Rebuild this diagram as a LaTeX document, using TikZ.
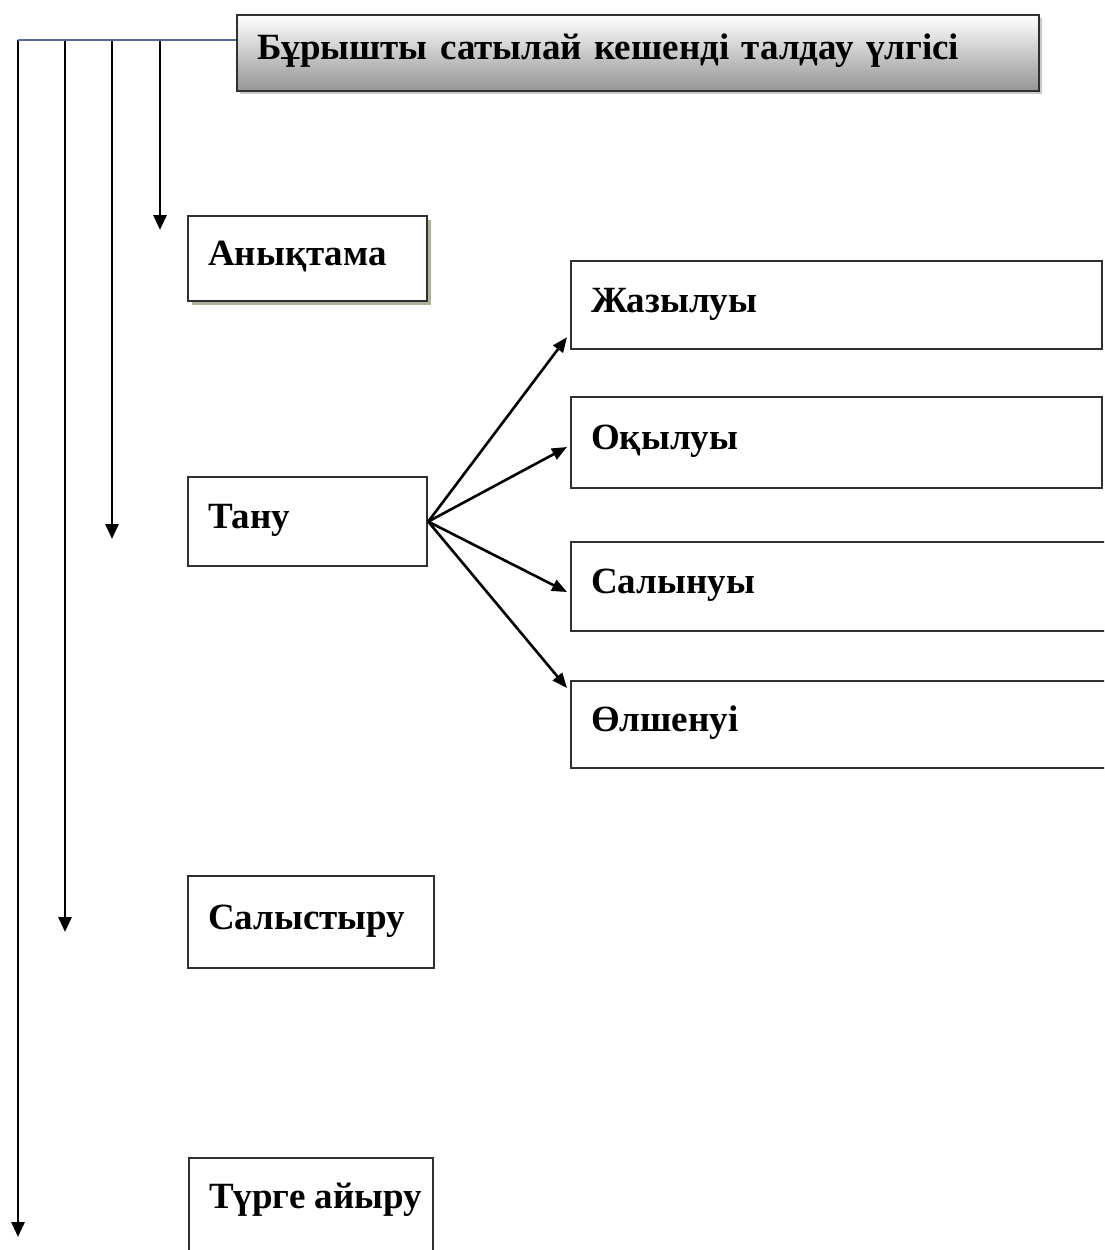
\documentclass[tikz,border=0pt]{standalone}
\usepackage{fontspec}
\setmainfont{Liberation Serif}
\usetikzlibrary{arrows.meta,shadows}
\definecolor{linkblue}{HTML}{4F6A9A}
\definecolor{boxline}{HTML}{303030}
\definecolor{olive}{HTML}{8A9470}
\tikzset{
  box/.style={draw=boxline, line width=2.2pt, fill=white, rectangle, anchor=north west,
    inner xsep=20pt, inner ysep=0pt, align=left, font=\bfseries\fontsize{37}{40}\selectfont,
    text height=25pt, text depth=11pt},
  vline/.style={line width=2.8pt, black, -{Triangle[length=15pt,width=13pt]}},
  fan/.style={line width=2.6pt, black, -{Triangle[length=15pt,width=12pt]}},
}
\begin{document}
\begin{tikzpicture}[x=1pt,y=-1pt]
\useasboundingbox (0,0) rectangle (1104,1250);
\clip (0,0) rectangle (1104,1250);
\fill[white] (0,0) rectangle (1104,1250);
% title
\node[box, top color=white, bottom color=black!42, minimum width=802pt, minimum height=76pt,
  text width=762pt, drop shadow={shadow xshift=3pt, shadow yshift=-3pt, fill=black!35, opacity=0.6},
  text height=24pt, text depth=12pt] (title) at (236,14) {Бұрышты сатылай кешенді талдау үлгісі};
% left boxes
\node[box, minimum width=239pt, minimum height=85pt, text width=199pt,
  drop shadow={shadow xshift=4pt, shadow yshift=-4pt, fill=olive, opacity=0.7}] (anyk) at (187,215) {Анықтама};
\node[box, minimum width=239pt, minimum height=89pt, text width=199pt] (tanu) at (187,476) {Тану};
\node[box, minimum width=246pt, minimum height=92pt, text width=206pt] (salys) at (187,875) {Салыстыру};
\node[box, minimum width=244pt, minimum height=100pt, text depth=24pt] (turge) at (188,1157) {\makebox[204pt][l]{Түрге айыру}};
% right boxes
\node[box, minimum width=531pt, minimum height=88pt, text width=491pt] (zhaz) at (570,260) {Жазылуы};
\node[box, minimum width=531pt, minimum height=91pt, text width=491pt] (oqyl) at (570,396) {Оқылуы};
\node[box, minimum width=545pt, minimum height=89pt, text width=505pt] (salyn) at (570,541) {Салынуы};
\node[box, minimum width=545pt, minimum height=87pt, text width=505pt] (olsh) at (570,680) {Өлшенуі};
% top connector
\coordinate (t0) at (236,40);
\coordinate (t1) at (18,40);
\coordinate (t2) at (65,40);
\coordinate (t3) at (112,40);
\coordinate (t4) at (160,40);
\coordinate (e1) at (18,1237);
\coordinate (e2) at (65,932);
\coordinate (e3) at (112,539);
\coordinate (e4) at (160,230);
\draw[vline] (t1) -- (e1);
\draw[vline] (t2) -- (e2);
\draw[vline] (t3) -- (e3);
\draw[vline] (t4) -- (e4);
\draw[linkblue, line width=2.4pt] (t0) -- (t1);
% fan arrows
\draw[fan] (tanu.east) -- ([shift={(-3,-13)}]zhaz.south west);
\draw[fan] (tanu.east) -- ([shift={(-3,51)}]oqyl.north west);
\draw[fan] (tanu.east) -- ([shift={(-3,51)}]salyn.north west);
\draw[fan] (tanu.east) -- ([shift={(-3,8)}]olsh.north west);
\end{tikzpicture}
\end{document}
